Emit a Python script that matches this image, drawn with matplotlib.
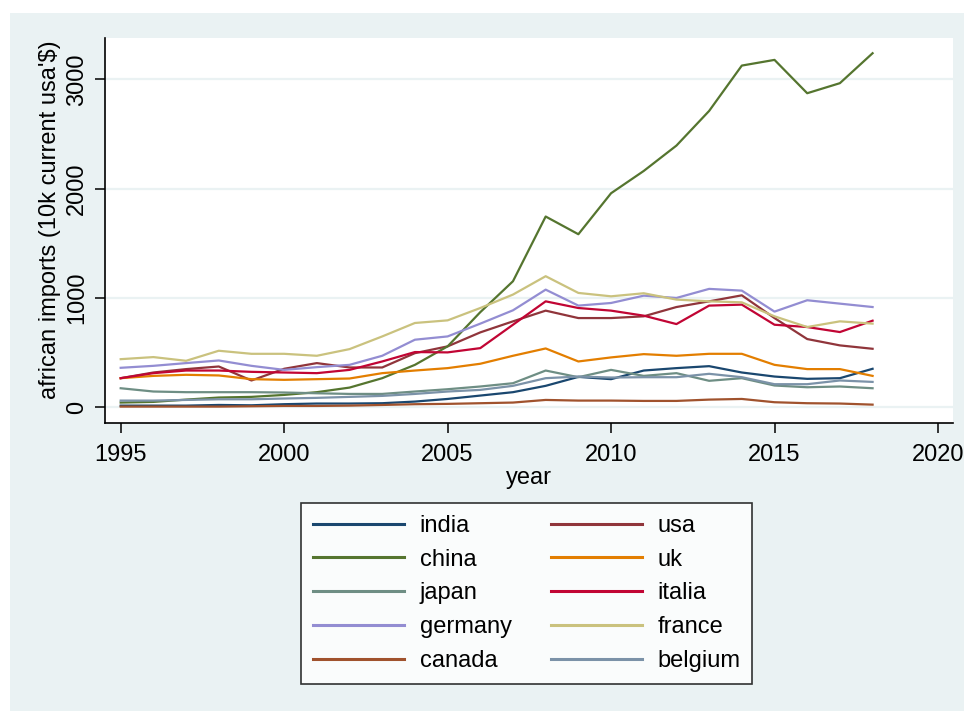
import matplotlib.pyplot as plt
from matplotlib.patches import Rectangle

plt.rcParams['font.family'] = ['Liberation Sans', 'DejaVu Sans']

years = list(range(1995, 2019))

india = [15, 15, 15, 21, 18, 28, 34, 34, 37, 52, 76, 107, 138, 196, 278,
         257, 336, 358, 376, 318, 281, 260, 266, 352]
usa = [266, 318, 349, 373, 245, 352, 404, 364, 364, 495, 557, 685, 786, 884, 816,
       816, 832, 917, 969, 1024, 816, 624, 566, 535]
china = [43, 49, 70, 89, 95, 113, 138, 180, 266, 388, 557, 870, 1153, 1745, 1583,
         1958, 2162, 2394, 2711, 3126, 3178, 2873, 2965, 3239]
uk = [266, 287, 297, 291, 257, 251, 257, 263, 312, 336, 358, 398, 471, 538, 419,
      456, 486, 471, 489, 489, 388, 349, 349, 287]
japan = [174, 144, 138, 138, 138, 135, 128, 122, 122, 144, 165, 190, 220, 336, 275,
         342, 287, 312, 242, 266, 199, 183, 190, 174]
italia = [266, 312, 336, 336, 324, 318, 312, 342, 419, 505, 502, 541, 755, 969, 908,
          884, 838, 761, 930, 939, 755, 734, 688, 792]
germany = [361, 379, 404, 428, 379, 342, 367, 388, 471, 618, 648, 765, 887, 1076, 930,
           954, 1021, 1000, 1083, 1067, 875, 979, 948, 917]
france = [440, 459, 425, 517, 489, 489, 471, 532, 648, 771, 795, 908, 1031, 1199, 1046,
          1015, 1043, 985, 969, 960, 832, 734, 786, 765]
canada = [6, 6, 6, 6, 9, 12, 12, 15, 21, 28, 31, 37, 43, 67, 61,
          61, 58, 58, 70, 76, 46, 37, 34, 24]
belgium = [61, 61, 67, 73, 73, 80, 86, 95, 104, 122, 144, 159, 196, 266, 281,
           272, 275, 275, 306, 275, 211, 211, 245, 232]

series = [
    ('india', india, '#1a476f'),
    ('usa', usa, '#90353b'),
    ('china', china, '#55752f'),
    ('uk', uk, '#e37e00'),
    ('japan', japan, '#6e8e84'),
    ('italia', italia, '#c10534'),
    ('germany', germany, '#938dd2'),
    ('france', france, '#cac27e'),
    ('canada', canada, '#a0522d'),
    ('belgium', belgium, '#7b92a8'),
]

bg = '#eaf2f3'
W, H = 964, 711
fig = plt.figure(figsize=(W / 100, H / 100), dpi=100, facecolor=bg)
# white margin strips like the screenshot
fig.patches.append(Rectangle((0, 1 - 13 / H), 1, 13 / H, transform=fig.transFigure,
                             facecolor='white', edgecolor='none', zorder=0))
fig.patches.append(Rectangle((0, 0), 10 / W, 1, transform=fig.transFigure,
                             facecolor='white', edgecolor='none', zorder=0))

ax = fig.add_axes([105 / W, 1 - 423 / H, 848 / W, 385.3 / H])
ax.set_facecolor('white')

lines = {}
for name, vals, col in series:
    lines[name], = ax.plot(years, vals, color=col, lw=1.6, label=name)

ax.set_xlim(1994.52, 2020.46)
ax.set_ylim(-144, 3381)
ax.set_xticks(range(1995, 2021, 5))
ax.set_yticks([0, 1000, 2000, 3000])
ax.yaxis.grid(True, color=bg, lw=1.6)
ax.set_axisbelow(True)

for s in ['top', 'right']:
    ax.spines[s].set_visible(False)
for s in ['left', 'bottom']:
    ax.spines[s].set_linewidth(1.2)
    ax.spines[s].set_color('black')

ax.tick_params(axis='both', length=7, width=1.1, labelsize=17, color='black')
ax.tick_params(axis='x', pad=8)
ax.tick_params(axis='y', pad=5, labelrotation=90)
for t in ax.get_yticklabels():
    t.set_va('center')

ax.set_xlabel('year', fontsize=17)
ax.xaxis.set_label_coords(0.5, (423 - 478) / 385.3)
ax.xaxis.label.set_va('center')
ax.set_ylabel("african imports (10k current usa'$)", fontsize=17)
ax.yaxis.set_label_coords((50 - 105) / 848, (423 - 220) / 385.3)
ax.yaxis.label.set_va('center')
ax.yaxis.label.set_ha('center')

# legend fills row-wise in the original: reorder for column-wise fill
order = ['india', 'china', 'japan', 'germany', 'canada',
         'usa', 'uk', 'italia', 'france', 'belgium']
leg = fig.legend([lines[n] for n in order], order, ncol=2,
                 loc='upper left', bbox_to_anchor=(301 / W, 1 - 503 / H),
                 bbox_transform=fig.transFigure, borderaxespad=0,
                 fontsize=17, frameon=True, fancybox=False,
                 handlelength=3.85, handletextpad=0.68, columnspacing=1.65,
                 labelspacing=0.5, borderpad=0.5)
leg.get_frame().set_edgecolor('black')
leg.get_frame().set_linewidth(1.2)
leg.get_frame().set_facecolor('white')
for h in leg.get_lines():
    h.set_linewidth(2.2)

fig.savefig('out.png', dpi=100, facecolor=bg)
